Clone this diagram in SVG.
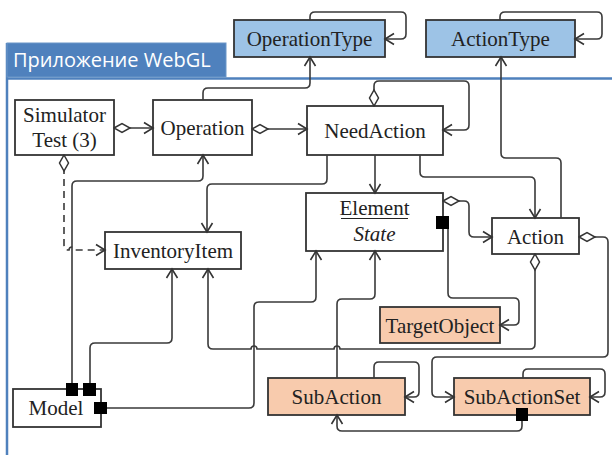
<svg xmlns="http://www.w3.org/2000/svg" width="612" height="455" viewBox="0 0 612 455">
<style>
.n rect{fill:#fff;stroke:#333;stroke-width:1.8}
.blue rect{fill:#9dc3e6}
.peach rect{fill:#f8cbad}
.n text{font-family:'Liberation Serif',serif;font-size:21px;fill:#222;text-anchor:middle}
.c path{fill:none;stroke:#3a3a3a;stroke-width:1.6}
.c rect{fill:#000}
.a{marker-end:url(#arr)}
.d{marker-start:url(#dia)}
</style>
<defs>
<marker id="arr" viewBox="-11 -7 13 14" refX="0" refY="0" markerWidth="13" markerHeight="14" orient="auto" markerUnits="userSpaceOnUse">
<path d="M-9,-5.5 L0,0 L-9,5.5" fill="none" stroke="#333" stroke-width="1.6"/>
</marker>
<marker id="dia" viewBox="-1 -6 19 12" refX="0" refY="0" markerWidth="19" markerHeight="12" orient="auto" markerUnits="userSpaceOnUse">
<path d="M0,0 L8,-4.5 L16,0 L8,4.5 Z" fill="#fff" stroke="#333" stroke-width="1.5"/>
</marker>
</defs>
<rect width="612" height="455" fill="#fff"/>
<g id="frame">
<line x1="7" y1="43" x2="7" y2="455" stroke="#4f81bd" stroke-width="2.5"/>
<line x1="7" y1="78.5" x2="612" y2="78.5" stroke="#4f81bd" stroke-width="2.5"/>
<rect x="7" y="43" width="219" height="34" fill="#4f81bd" stroke="#6a96c8" stroke-width="1"/>
<text x="13" y="67" font-family="'Open Sans','DejaVu Sans',sans-serif" font-size="20" fill="#fff">Приложение WebGL</text>
</g>
<g font-family="'Liberation Serif', serif">
<g id="OperationType" class="n blue"><rect x="234" y="20" width="151" height="37"/><text x="309.5" y="46">OperationType</text></g>
<g id="ActionType" class="n blue"><rect x="426" y="20" width="149" height="37"/><text x="500.5" y="46">ActionType</text></g>
<g id="SimulatorTest" class="n"><rect x="15" y="100" width="99" height="55"/><text x="64.5" y="122">Simulator</text><text x="64.5" y="147">Test (3)</text></g>
<g id="Operation" class="n"><rect x="153" y="100" width="99" height="55"/><text x="202.5" y="135">Operation</text></g>
<g id="NeedAction" class="n"><rect x="307" y="106" width="136" height="49"/><text x="375" y="138">NeedAction</text></g>
<g id="Element" class="n"><rect x="306" y="193" width="137" height="58"/><text x="374.5" y="215">Element</text><line x1="341" y1="218.5" x2="408" y2="218.5" stroke="#222" stroke-width="1.2"/><text x="374.5" y="241" font-style="italic">State</text></g>
<g id="Action" class="n"><rect x="492" y="218" width="87" height="36"/><text x="535.5" y="244">Action</text></g>
<g id="InventoryItem" class="n"><rect x="105" y="232" width="136" height="37"/><text x="173" y="258">InventoryItem</text></g>
<g id="TargetObject" class="n peach"><rect x="380" y="307" width="120" height="36"/><text x="440" y="333">TargetObject</text></g>
<g id="SubAction" class="n peach"><rect x="268" y="378" width="137" height="37"/><text x="336.5" y="404">SubAction</text></g>
<g id="SubActionSet" class="n peach"><rect x="454" y="378" width="136" height="37"/><text x="522" y="404">SubActionSet</text></g>
<g id="Model" class="n"><rect x="13" y="389" width="88" height="38"/><text x="56" y="415">Model</text></g>
</g>
<g id="connectors" class="c">
<path class="a d" d="M114,128 H153"/>
<path class="a d" d="M252,129 H307"/>
<path class="a" d="M203,100 V93 Q203,88 208,88 H305 Q310,88 310,83 V57"/>
<path class="a" d="M310,20 V17 Q310,12 315,12 H401 Q406,12 406,17 V34 Q406,39 401,39 H385"/>
<path class="a" d="M500,20 V17 Q500,12 505,12 H597 Q602,12 602,17 V34 Q602,39 597,39 H575"/>
<path class="a d" d="M374,106 V86 Q374,81 379,81 H464 Q469,81 469,86 V125 Q469,130 464,130 H443"/>
<path class="a" d="M375,155 V193"/>
<path class="a" d="M420,155 V172 Q420,177 425,177 H530 Q535,177 535,182 V218"/>
<path class="a" d="M327,155 V179 Q327,184 322,184 H212 Q207,184 207,189 V232"/>
<path class="a" d="M561,218 V163 Q561,158 556,158 H506 Q501,158 501,153 V57"/>
<path class="a" d="M72,383 V186 Q72,181 77,181 H198 Q203,181 203,176 V155"/>
<path class="a d" stroke-dasharray="7,5" d="M64,155 V245 Q64,250 68,250 H69 A3,3 0 0 1 75,250 H105"/>
<path class="a" d="M90,383 V348 Q90,343 95,343 H167 Q172,343 172,338 V269"/>
<path class="a d" d="M535,254 V344 Q535,349 530,349 H340 A3,3 0 0 0 334,349 H257 A3,3 0 0 0 251,349 H213 Q208,349 208,344 V269"/>
<path class="a" d="M107,408 H249 Q254,408 254,403 V307 Q254,302 259,302 H311 Q316,302 316,297 V251"/>
<path class="a" d="M337,378 V304 Q337,299 342,299 H370 Q375,299 375,294 V251"/>
<path class="a" d="M448,229 V293 Q448,298 453,298 H514 Q519,298 519,303 V320 Q519,325 514,325 H500"/>
<path class="a d" d="M443,201 H464 Q469,201 469,206 V232 Q469,237 474,237 H492"/>
<path class="a d" d="M579,237 H603 Q608,237 608,242 V352 Q608,357 603,357 H437 Q432,357 432,362 V392 Q432,397 437,397 H454"/>
<path class="a" d="M374,378 V367 Q374,362 379,362 H414 Q419,362 419,367 V392 Q419,397 414,397 H405"/>
<path class="a" d="M523,378 V374 Q523,369 528,369 H600 Q605,369 605,374 V392 Q605,397 600,397 H590"/>
<path class="a" d="M522,421 V426 Q522,431 517,431 H342 Q337,431 337,426 V415"/>
<rect x="66" y="383" width="12" height="13"/>
<rect x="83" y="383" width="13" height="13"/>
<rect x="94" y="402" width="13" height="12"/>
<rect x="436" y="216" width="13" height="13"/>
<rect x="516" y="408" width="12" height="13"/>
</g>
</svg>
